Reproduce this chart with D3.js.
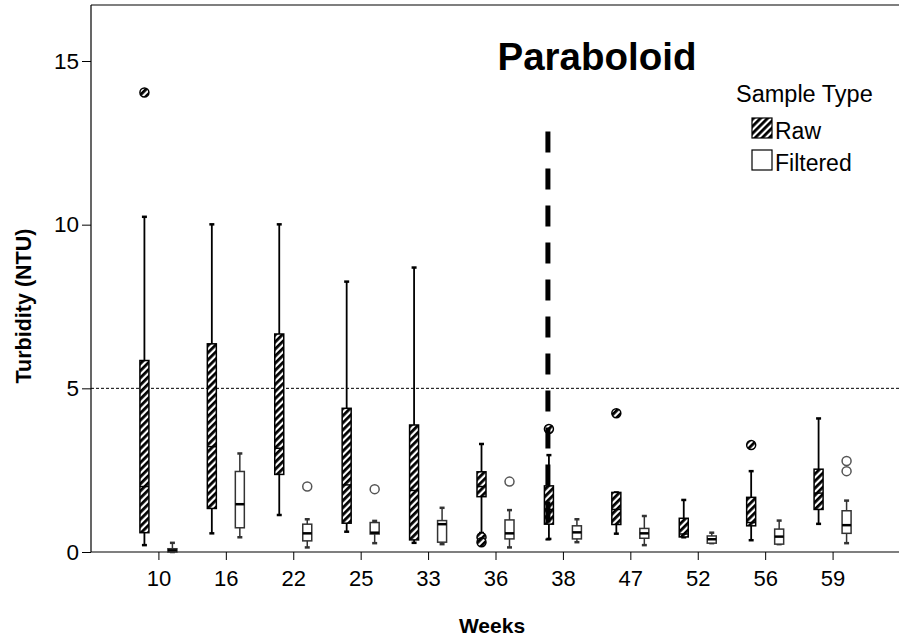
<!DOCTYPE html>
<html><head><meta charset="utf-8">
<script src="https://cdn.jsdelivr.net/npm/d3@7"></script>
<style>body{margin:0;background:#fff}svg{display:block;font-family:"Liberation Sans",Arial,sans-serif}</style>
</head><body><svg id="c" width="899" height="640"></svg>
<script>
const weeks = ["10","16","22","25","33","36","38","47","52","56","59"];
// Raw samples: whisker low, Q1, median, Q3, whisker high
const rawLow  = [0.21,0.57,1.13,0.62,0.28,0.58,0.40,0.56,0.45,0.36,0.86];
const rawQ1   = [0.59,1.33,2.37,0.88,0.37,1.69,0.85,0.84,0.46,0.80,1.30];
const rawMed  = [2.00,3.22,3.17,2.05,1.88,2.00,1.30,1.30,0.55,0.90,1.80];
const rawQ3   = [5.85,6.36,6.66,4.39,3.88,2.45,2.02,1.82,1.03,1.67,2.53];
const rawHigh = [10.24,10.01,10.01,8.26,8.69,3.30,2.96,1.82,1.59,2.47,4.08];
const rawOutWeeks = ["10","36","36","38","47","56"];
const rawOutVals  = [14.04,0.45,0.30,3.76,4.24,3.27];
// Filtered samples
const filLow  = [0.00,0.45,0.14,0.27,0.24,0.14,0.30,0.21,0.27,0.24,0.27];
const filQ1   = [0.00,0.74,0.34,0.55,0.30,0.40,0.40,0.42,0.27,0.24,0.57];
const filMed  = [0.05,1.46,0.57,0.59,0.85,0.57,0.60,0.57,0.39,0.47,0.82];
const filQ3   = [0.10,2.46,0.85,0.90,0.96,0.98,0.80,0.72,0.49,0.70,1.26];
const filHigh = [0.28,3.01,1.00,0.95,1.35,1.28,1.00,1.10,0.59,0.96,1.57];
const filOutWeeks = ["22","25","36","59","59"];
const filOutVals  = [2.00,1.92,2.15,2.78,2.47];
const yTicks = [0,5,10,15];
const threshold = 5;
const markerWeek = "38";
const markerFrom = 12.85, markerTo = 0.35;
const seriesNames = ["Raw","Filtered"];

const svg = d3.select("#c");
const L = 91, R = 900, B = 552, T = 5;
const x = d3.scalePoint().domain(weeks).range([L, R]).padding(1);
const y = d3.scaleLinear().domain([0,15]).range([B, 61]);
const off = {Raw:-14, Filtered:14};
const bw = 9;

const defs = svg.append("defs");
const pat = defs.append("pattern").attr("id","hatch").attr("patternUnits","userSpaceOnUse")
  .attr("width",5).attr("height",5).attr("patternTransform","rotate(45)");
pat.append("rect").attr("width",5).attr("height",5).attr("fill","#fff");
pat.append("rect").attr("width",2.8).attr("height",5).attr("fill","#000");

// frame
svg.append("line").attr("x1",L).attr("x2",R).attr("y1",T).attr("y2",T).attr("stroke","#000").attr("stroke-width",1.2);

// axes
const ya = svg.append("g").attr("transform",`translate(${L},0)`)
  .call(d3.axisLeft(y).tickValues(yTicks).tickSize(9).tickPadding(3).tickFormat(d3.format("d")));
ya.select(".domain").attr("d",`M0,${T}V${B}`).attr("stroke","#000").attr("stroke-width",1.2);
ya.selectAll("text").attr("font-size",22.5).attr("fill","#000").attr("font-family","Liberation Sans, Arial, sans-serif");
const xa = svg.append("g").attr("transform",`translate(0,${B})`)
  .call(d3.axisBottom(x).tickSize(8).tickPadding(10));
xa.select(".domain").attr("d",`M${L},0H${R}`).attr("stroke","#000").attr("stroke-width",1.2);
xa.selectAll("text").attr("font-size",22).attr("fill","#000").attr("font-family","Liberation Sans, Arial, sans-serif");

// threshold
svg.append("line").attr("x1",L).attr("x2",R).attr("y1",y(threshold)).attr("y2",y(threshold))
  .attr("stroke","#000").attr("stroke-width",1).attr("stroke-dasharray","3,2");

function drawSeries(name, lo, q1, md, q3, hi, ow, ov) {
  const g = svg.append("g");
  const isRaw = name === "Raw";
  const col = isRaw ? "#000" : "#333";
  weeks.forEach((w,i) => {
    const cx = x(w) + off[name];
    g.append("line").attr("x1",cx).attr("x2",cx).attr("y1",y(hi[i])).attr("y2",y(lo[i]))
      .attr("stroke",col).attr("stroke-width",isRaw?1.8:1.5);
    [hi[i],lo[i]].forEach(v => g.append("line").attr("x1",cx-2.5).attr("x2",cx+2.5)
      .attr("y1",y(v)).attr("y2",y(v)).attr("stroke",col).attr("stroke-width",2.5));
    g.append("rect").attr("x",cx-bw/2).attr("width",bw)
      .attr("y",y(q3[i])).attr("height",Math.max(1,y(q1[i])-y(q3[i])))
      .attr("fill",isRaw?"url(#hatch)":"#fff").attr("stroke",col).attr("stroke-width",1.5);
    g.append("line").attr("x1",cx-bw/2).attr("x2",cx+bw/2).attr("y1",y(md[i])).attr("y2",y(md[i]))
      .attr("stroke","#000").attr("stroke-width",isRaw?1.5:2.5);
  });
  ow.forEach((w,j) => {
    g.append("circle").attr("cx",x(w)+off[name]).attr("cy",y(ov[j])).attr("r",4.5)
      .attr("fill",isRaw?"url(#hatch)":"#fff").attr("stroke",isRaw?"#000":"#555").attr("stroke-width",1.5);
  });
}
drawSeries("Raw", rawLow, rawQ1, rawMed, rawQ3, rawHigh, rawOutWeeks, rawOutVals);
drawSeries("Filtered", filLow, filQ1, filMed, filQ3, filHigh, filOutWeeks, filOutVals);

// thick dashed marker
svg.append("line").attr("x1",x(markerWeek)-15).attr("x2",x(markerWeek)-15)
  .attr("y1",y(markerFrom)).attr("y2",y(markerTo)).attr("stroke","#000").attr("stroke-width",5)
  .attr("stroke-dasharray","21,16");

// title
svg.append("text").attr("x",597).attr("y",70).attr("text-anchor","middle").attr("font-weight","bold")
  .attr("font-size",38.5).text("Paraboloid");

// axis titles
svg.append("text").attr("x",492).attr("y",633).attr("text-anchor","middle").attr("font-weight","bold")
  .attr("font-size",21).text("Weeks");
svg.append("text").attr("transform","translate(31,306) rotate(-90)").attr("text-anchor","middle")
  .attr("font-weight","bold").attr("font-size",21.5).text("Turbidity (NTU)");

// legend
const lg = svg.append("g");
lg.append("text").attr("x",736).attr("y",102).attr("font-size",23.5).text("Sample Type");
seriesNames.forEach((s,i) => {
  const yy = 118 + i*32;
  lg.append("rect").attr("x",752).attr("y",yy).attr("width",20).attr("height",20)
    .attr("fill", s==="Raw"?"url(#hatch)":"#fff").attr("stroke","#000").attr("stroke-width",1.2);
  lg.append("text").attr("x",775).attr("y",yy+21).attr("font-size",23).text(s);
});
</script></body></html>
